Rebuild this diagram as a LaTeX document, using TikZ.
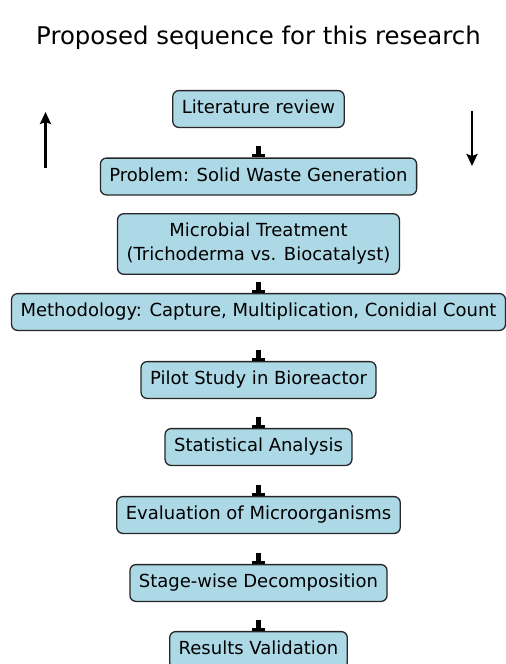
\documentclass[tikz,border=0pt]{standalone}
\usepackage{fontspec}
\setmainfont{DejaVu Sans}
\usetikzlibrary{arrows.meta}
\definecolor{boxblue}{HTML}{ADD8E6}
\begin{document}
\begin{tikzpicture}[x=1pt, y=1pt, line join=round,
		stepbox/.style={draw=black!85, line width=1.3pt, fill=boxblue, rounded corners=6pt,
			align=center, inner xsep=9pt, inner ysep=9.5pt,
			font=\fontsize{18}{24}\selectfont, text height=13.5pt, text depth=4.3pt},
		twoline/.style={text height=, text depth=},
		stub/.style={line width=5pt, -{Rectangle[width=13pt,length=3pt]}},
		side/.style={line width=2.5pt, -{Stealth[length=12pt,width=11pt,inset=2pt]}}]
	\def\cx{258.5}
	\useasboundingbox (0,0) rectangle (506,-664);
	\node[anchor=base, font=\fontsize{24.4}{28}\selectfont] (title) at (\cx,-44) {Proposed sequence for this research};
	% flow of the research
	\node[stepbox] (lit) at (\cx,-109) {Literature review};
	\node[stepbox] (prob) at (\cx,-176.5) {Problem: Solid Waste Generation};
	\node[stepbox, twoline] (micro) at (\cx,-244) {Microbial Treatment\\(Trichoderma vs. Biocatalyst)};
	\node[stepbox] (meth) at (\cx,-312) {Methodology: Capture, Multiplication, Conidial Count};
	\node[stepbox] (pilot) at (\cx,-380) {Pilot Study in Bioreactor};
	\node[stepbox] (stat) at (\cx,-447) {Statistical Analysis};
	\node[stepbox] (eval) at (\cx,-515) {Evaluation of Microorganisms};
	\node[stepbox] (stage) at (\cx,-583) {Stage-wise Decomposition};
	\node[stepbox] (res) at (\cx,-650) {Results Validation};
	% only the ends of the arrows show above the boxes
	\foreach \b in {prob,meth,pilot,stat,eval,stage,res}{
		\coordinate (t\b) at ([yshift=11pt]\b.north);
		\draw[stub] (t\b) -- (\b.north);
	}
	% arrows at the sides
	\coordinate (upA) at (45.5,-168);
	\coordinate (upB) at (45.5,-112);
	\coordinate (downA) at (472,-111);
	\coordinate (downB) at (472,-166);
	\draw[side] (upA) -- (upB);
	\draw[side] (downA) -- (downB);
\end{tikzpicture}
\end{document}
